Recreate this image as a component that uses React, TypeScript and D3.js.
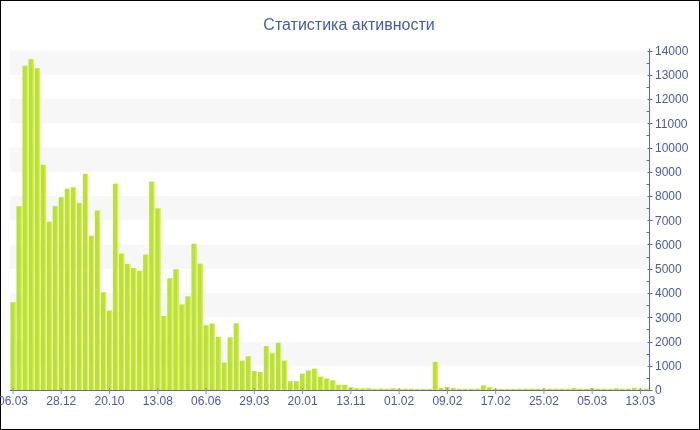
import React from "react";
import * as d3 from "d3";

const title = "Статистика активности";

const values: number[] = [
  3620, 7580, 13370, 13640, 13270, 9290, 6940, 7580, 7950, 8300,
  8360, 7710, 8910, 6360, 7400, 4030, 3270, 8510, 5620, 5200,
  5030, 4910, 5580, 8590, 7490, 3050, 4610, 4980, 3530, 3860,
  6030, 5210, 2670, 2740, 2190, 1130, 2170, 2750, 1210, 1390,
  780, 740, 1810, 1510, 1940, 1210, 360, 360, 670, 810,
  880, 550, 470, 400, 210, 210, 110, 70, 60, 70,
  50, 60, 50, 70, 50, 50, 50, 40, 40, 40,
  1160, 80, 120, 80, 50, 50, 50, 50, 190, 110,
  50, 40, 40, 40, 50, 50, 50, 50, 50, 50,
  50, 50, 50, 80, 50, 50, 80, 50, 50, 50,
  70, 50, 50, 90, 50, 50,
];

const tickLabels: string[] = [
  "06.03", "28.12", "20.10", "13.08", "06.06", "29.03", "20.01",
  "13.11", "01.02", "09.02", "17.02", "25.02", "05.03", "13.03",
];
const tickEvery = 8;

const yMax = 14000;
const yStep = 1000;

const W = 700;
const H = 430;
const left = 10;
const right = 649.5;
const top = 50.5;
const bottom = 390;

const textColor = "#4a5aa6";
const axisColor = "#5b6aa8";
const barFill = "#bde22e";
const barEdge = "#d6ee80";
const band = "#f7f7f7";
const font = "'Liberation Sans', Arial, sans-serif";

export default function App() {
  const idx = values.map((_, i) => i);
  const x = d3
    .scaleBand<number>()
    .domain(idx)
    .range([left, right])
    .paddingInner(0.14)
    .paddingOuter(0.07);
  const y = d3.scaleLinear().domain([0, yMax]).range([bottom, top]);

  const majors = d3.range(0, yMax + 1, yStep);
  const minors = d3.range(yStep / 2, yMax, yStep);
  const bands = d3.range(yStep, yMax, 2 * yStep);

  return (
    <div style={{ position: "fixed", left: 0, top: 0, width: W, height: H }}>
      <svg width={W} height={H} style={{ display: "block" }}>
        <rect x={0.5} y={0.5} width={W - 1} height={H - 1} fill="#fff" stroke="#000" />
        <text
          x={349}
          y={30}
          textAnchor="middle"
          fill={textColor}
          fontFamily={font}
          fontSize={16}
        >
          {title}
        </text>
        {bands.map((b) => (
          <rect
            key={"b" + b}
            x={left}
            y={y(b + yStep)}
            width={right - left}
            height={y(b) - y(b + yStep)}
            fill={band}
          />
        ))}
        {values.map((v, i) => (
          <g key={"r" + i}>
            <rect
              x={x(i)!}
              y={y(v)}
              width={x.bandwidth()}
              height={bottom - y(v)}
              fill={barFill}
            />
            <rect
              x={x(i)! + x.bandwidth() - 1}
              y={y(v)}
              width={1}
              height={bottom - y(v)}
              fill={barEdge}
            />
          </g>
        ))}
        {/* x axis */}
        <line x1={left} x2={right} y1={bottom + 0.5} y2={bottom + 0.5} stroke={axisColor} />
        {tickLabels.map((t, k) => {
          const i = k * tickEvery;
          const cx = x(i)! + x.bandwidth() / 2;
          return (
            <g key={"xt" + k}>
              <line x1={cx} x2={cx} y1={bottom - 2} y2={bottom + 4} stroke="#8a93b8" />
              <text
                x={cx}
                y={405}
                textAnchor="middle"
                fill={textColor}
                fontFamily={font}
                fontSize={12}
              >
                {t}
              </text>
            </g>
          );
        })}
        {/* y axis on right */}
        <line x1={right} x2={right} y1={top - 2} y2={bottom + 1} stroke={axisColor} />
        {minors.map((m) => (
          <line
            key={"mi" + m}
            x1={right - 3}
            x2={right}
            y1={Math.round(y(m)) + 0.5}
            y2={Math.round(y(m)) + 0.5}
            stroke={axisColor}
          />
        ))}
        {majors.map((m) => (
          <g key={"ma" + m}>
            <line
              x1={right - 2}
              x2={right + 3}
              y1={Math.round(y(m)) + 0.5}
              y2={Math.round(y(m)) + 0.5}
              stroke={axisColor}
            />
            <text
              x={655}
              y={y(m)}
              dy="0.36em"
              fill={textColor}
              fontFamily={font}
              fontSize={12}
            >
              {m}
            </text>
          </g>
        ))}
      </svg>
    </div>
  );
}
